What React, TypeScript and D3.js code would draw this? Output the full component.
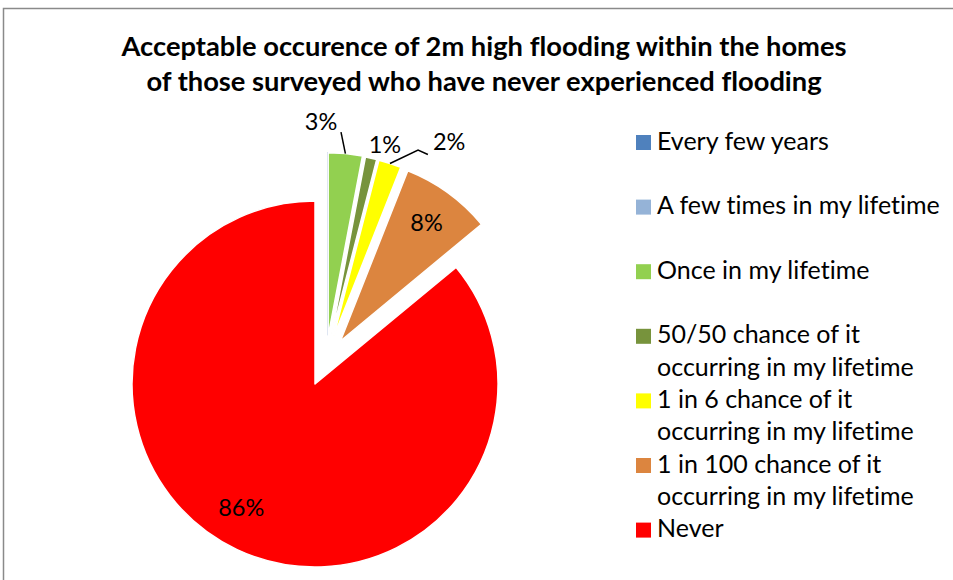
import React from "react";
import * as d3 from "d3";

// ---- data ----
const categories: string[] = [
  "Every few years",
  "A few times in my lifetime",
  "Once in my lifetime",
  "50/50 chance of it occurring in my lifetime",
  "1 in 6 chance of it occurring in my lifetime",
  "1 in 100 chance of it occurring in my lifetime",
  "Never",
];
const legendLines: string[][] = [
  ["Every few years"],
  ["A few times in my lifetime"],
  ["Once in my lifetime"],
  ["50/50 chance of it", "occurring in my lifetime"],
  ["1 in 6 chance of it", "occurring in my lifetime"],
  ["1 in 100 chance of it", "occurring in my lifetime"],
  ["Never"],
];
const values: number[] = [0, 0, 3, 1, 2, 8, 86];
const valueLabels: string[] = ["", "", "3%", "1%", "2%", "8%", "86%"];
const titleLines: string[] = [
  "Acceptable occurence of 2m high flooding within the homes",
  "of those surveyed who have never experienced flooding",
];

// ---- styles / layout ----
const colors = ["#4F81BD", "#95B3D7", "#92D050", "#77933C", "#FFFF00", "#DC853F", "#FF0000"];
const exploded = [true, true, true, true, true, true, false];
const W = 953;
const H = 580;
const CX = 315;
const CY = 384;
const R = 183;
const EXPLODE = 50;
const FONT = "Lato, 'Open Sans', sans-serif";
const FS = 23.5;
const LEG_FS = 25;
const NOLIG = { fontVariantLigatures: "none" } as React.CSSProperties;
// label placement: [radius from slice apex, angle in deg (0 = up, clockwise)] ; null => inside at 0.8R on bisector
const labelPlace: ([number, number] | null)[] = [null, null, [214, -1.9], [200, 15.6], [228, 30.5], null, [144, 210.8]];
// leader lines: polar points from slice apex [r, angleDeg]; the first point is on the arc at the bisector
const leaderPts: ([number, number][] | null)[] = [null, null, [[204, 3.6]], null, [[205.7, 24.3], [206, 27.3]], null, null];

const rad = (d: number) => (d * Math.PI) / 180;
const polar = (ox: number, oy: number, r: number, a: number): [number, number] => [ox + r * Math.sin(a), oy - r * Math.cos(a)];

export default function App() {
  const pie = d3
    .pie<number>()
    .sort(null)
    .value((d) => d)
    .startAngle(0)
    .endAngle(2 * Math.PI);
  const arcs = pie(values);
  const arc = d3.arc<d3.PieArcDatum<number>>().innerRadius(0).outerRadius(R);

  const exArcs = arcs.filter((_, i) => exploded[i]);
  const groupMid = (d3.min(exArcs, (a) => a.startAngle)! + d3.max(exArcs, (a) => a.endAngle)!) / 2;

  const apex = arcs.map((a, i) => {
    if (!exploded[i]) return [CX, CY] as [number, number];
    const mid = (a.startAngle + a.endAngle) / 2;
    const dir = (mid + groupMid) / 2;
    return polar(CX, CY, EXPLODE, dir);
  });

  let legendY = 149.5;

  return (
    <svg width={W} height={H} style={{ display: "block", position: "absolute", left: 0, top: 0 }}>
      <rect x={0} y={0} width={W} height={H} fill="#fff" />
      <rect x={3.5} y={8.5} width={W + 20} height={H + 20} fill="#fff" stroke="#8A8A8A" strokeWidth={1.5} />
      {titleLines.map((t, i) => (
        <text
          key={i}
          x={484}
          y={56 + i * 34.5}
          textAnchor="middle"
          fontFamily={FONT}
          fontWeight="bold"
          fontSize={27.3}
          fill="#000"
          style={NOLIG}
        >
          {t}
        </text>
      ))}
      {arcs.map((a, i) => {
        const [ax, ay] = apex[i];
        if (a.value === 0) {
          const [ex, ey] = polar(ax + 2, ay, R, a.startAngle);
          return <line key={i} x1={ax + 2} y1={ay} x2={ex} y2={ey} stroke="#AFC0E0" strokeWidth={1.2} />;
        }
        return (
          <path
            key={i}
            d={arc(a) || ""}
            transform={`translate(${ax},${ay})`}
            fill={colors[i]}
            stroke="#fff"
            strokeWidth={1.5}
            strokeLinejoin="round"
          />
        );
      })}
      {arcs.map((a, i) => {
        const pts = leaderPts[i];
        if (!pts) return null;
        const [ax, ay] = apex[i];
        const mid = (a.startAngle + a.endAngle) / 2;
        const all: [number, number][] = [polar(ax, ay, R, mid), ...pts.map(([r, d]) => polar(ax, ay, r, rad(d)))];
        return <polyline key={i} points={all.map((p) => p.join(",")).join(" ")} fill="none" stroke="#000" strokeWidth={1.5} />;
      })}
      {arcs.map((a, i) => {
        if (!valueLabels[i]) return null;
        const [ax, ay] = apex[i];
        const mid = (a.startAngle + a.endAngle) / 2;
        const place = labelPlace[i];
        const [lx, ly] = place ? polar(ax, ay, place[0], rad(place[1])) : polar(ax, ay, 0.8 * R, mid);
        return (
          <text key={i} x={lx} y={ly + FS * 0.36} textAnchor="middle" fontFamily={FONT} fontSize={FS} fill="#000">
            {valueLabels[i]}
          </text>
        );
      })}
      {categories.map((c, i) => {
        const lines = legendLines[i];
        const base = legendY;
        legendY += 64.6;
        return (
          <g key={c}>
            <rect x={636} y={base - 14.5} width={15} height={15} fill={colors[i]} />
            {lines.map((l, j) => (
              <text key={j} x={657} y={base + j * 32.3} fontFamily={FONT} fontSize={LEG_FS} fill="#000" style={NOLIG}>
                {l}
              </text>
            ))}
          </g>
        );
      })}
    </svg>
  );
}
